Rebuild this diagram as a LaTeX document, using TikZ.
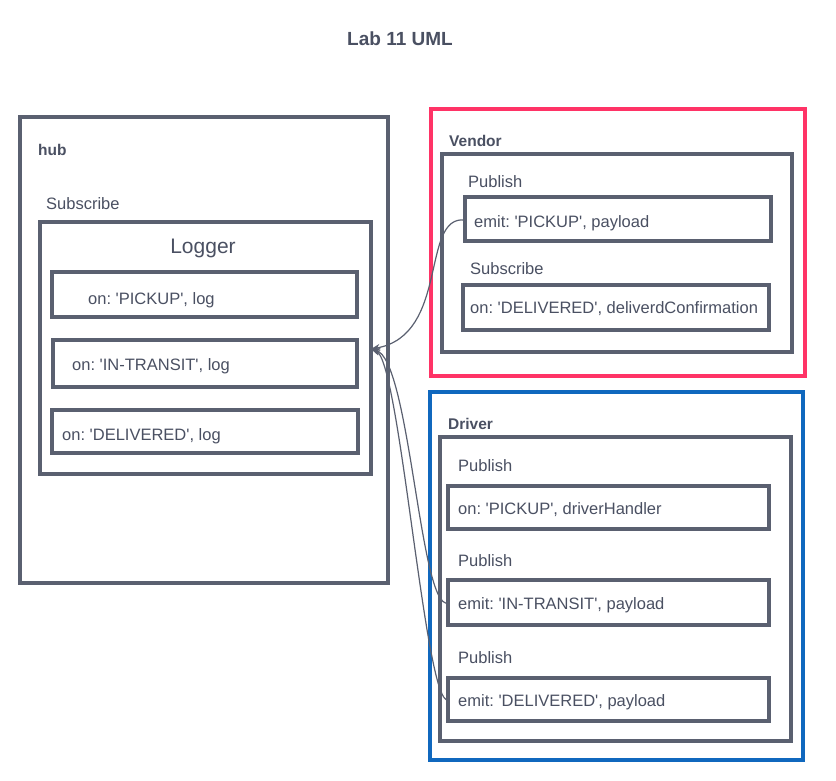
\documentclass[tikz,border=0pt]{standalone}
\usepackage{fontspec}
\setmainfont{Liberation Sans}[Ligatures=TeXReset]
\usetikzlibrary{arrows.meta}
\frenchspacing
\definecolor{ink}{HTML}{5A6070}
\definecolor{txt}{HTML}{4A5062}
\definecolor{vred}{HTML}{FF3366}
\definecolor{dblue}{HTML}{1068BE}
\tikzset{
  x=1pt,y=-1pt,
  boxline/.style={draw=ink,line width=3.2pt},
  lbl/.style={anchor=west,inner sep=0pt,text=txt,font=\fontsize{16.5}{18}\selectfont},
  blbl/.style={anchor=west,inner sep=0pt,text=txt,font=\bfseries\fontsize{15.5}{18}\selectfont},
  wire/.style={draw=ink,line width=1.2pt,-{Stealth[length=9pt,width=7pt]}},
}
\begin{document}
\begin{tikzpicture}
\useasboundingbox (0,0) rectangle (836,781);
\fill[white] (0,0) rectangle (836,781);
\node[text=txt,font=\bfseries\fontsize{19}{21}\selectfont] (title) at (400,39) {Lab 11 UML};
% hub
\draw[boxline] (20,117) rectangle (388,583);
\node[blbl] (hubl) at (38,150) {hub};
\node[lbl] (hubsub) at (46,204) {Subscribe};
\draw[boxline] (40,222) rectangle (371,474);
\coordinate (logR) at (371,349);
\node[text=txt,font=\fontsize{21}{23}\selectfont] (loggerl) at (203,248) {Logger};
\draw[boxline] (52,272) rectangle (357,317);
\node[lbl] (l1) at (88,300) {on: 'PICKUP', log};
\draw[boxline] (53,340) rectangle (357,387);
\node[lbl] (l2) at (72,366) {on: 'IN-TRANSIT', log};
\draw[boxline] (52,410) rectangle (358,453);
\node[lbl] (l3) at (62,436) {on: 'DELIVERED', log};
% vendor
\draw[draw=vred,line width=3.2pt] (431,109) rectangle (805,376);
\node[blbl] (vendl) at (449,141) {Vendor};
\draw[boxline] (442,154) rectangle (792,352);
\node[lbl] (vpub) at (468,182) {Publish};
\draw[boxline] (465,197) rectangle (771,241);
\coordinate (v1L) at (465,220);
\node[lbl] (v1) at (474,223) {emit: 'PICKUP', payload};
\node[lbl] (vsub) at (470,269) {Subscribe};
\draw[boxline] (463,285) rectangle (769,330);
\node[lbl] (v2) at (470,309) {on: 'DELIVERED', deliverdConfirmation};
% driver
\draw[draw=dblue,line width=3.2pt] (430,392) rectangle (803,760);
\node[blbl] (drvl) at (448,424) {Driver};
\draw[boxline] (440,437) rectangle (791,741);
\node[lbl] (dpub1) at (458,466) {Publish};
\draw[boxline] (448,486) rectangle (769,529);
\node[lbl] (d1) at (458,510) {on: 'PICKUP', driverHandler};
\node[lbl] (dpub2) at (458,561) {Publish};
\draw[boxline] (448,580) rectangle (769,625);
\coordinate (d2L) at (448,603);
\node[lbl] (d2) at (458,605) {emit: 'IN-TRANSIT', payload};
\node[lbl] (dpub3) at (458,658) {Publish};
\draw[boxline] (448,678) rectangle (769,721);
\coordinate (d3L) at (448,700);
\node[lbl] (d3) at (458,702) {emit: 'DELIVERED', payload};
% connectors
\draw[wire] (v1L) .. controls (420,215) and (450,335) .. (logR);
\draw[wire] (d2L) .. controls (420,610) and (410,360) .. (logR);
\draw[wire] (d3L) .. controls (425,705) and (400,360) .. (logR);
\end{tikzpicture}
\end{document}
